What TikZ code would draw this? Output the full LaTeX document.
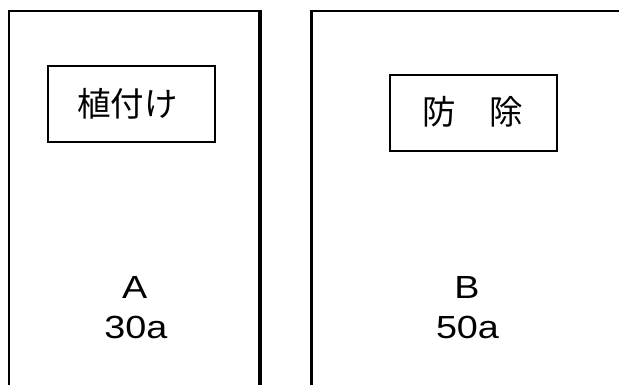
\documentclass[tikz,border=0pt]{standalone}
\usepackage{fontspec}
\setmainfont[FakeStretch=1.18]{Liberation Sans}
\newfontfamily\jp{Noto Sans CJK JP}
\begin{document}
\begin{tikzpicture}[x=1pt,y=-1pt,
  thinline/.style={line width=2.3pt},
  thickline/.style={line width=3.4pt},
  taskbox/.style={draw,line width=2pt,inner sep=0pt},
  jptext/.style={font=\jp\fontsize{33.5}{38}\selectfont,inner sep=0pt},
  lattext/.style={font=\fontsize{32}{38}\selectfont,inner sep=0pt,anchor=base}]
\useasboundingbox (0,0) rectangle (619,385);
% left field
\draw[thinline] (9,386) -- (9,11.3) -- (260,11.3);
\draw[thickline] (260,10.1) -- (260,386);
% right field
\draw[thickline] (311.7,386) -- (311.7,11.3);
\draw[thinline] (310,11.3) -- (620,11.3);
% task boxes
\node[taskbox,minimum width=167pt,minimum height=76.5pt] (plantbox) at (131.5,104) {};
\node[jptext] (plant) at (127.5,104) {植付け};
\node[taskbox,minimum width=167pt,minimum height=75.5pt] (protbox) at (473.5,112.8) {};
\node[jptext] (prot) at (473,111.7) {防　除};
% field labels
\node[lattext] (fa) at (134.7,298.3) {A};
\node[lattext] (fasize) at (136,338.3) {30a};
\node[lattext] (fb) at (467,298.3) {B};
\node[lattext] (fbsize) at (467.5,338.3) {50a};
\end{tikzpicture}
\end{document}
